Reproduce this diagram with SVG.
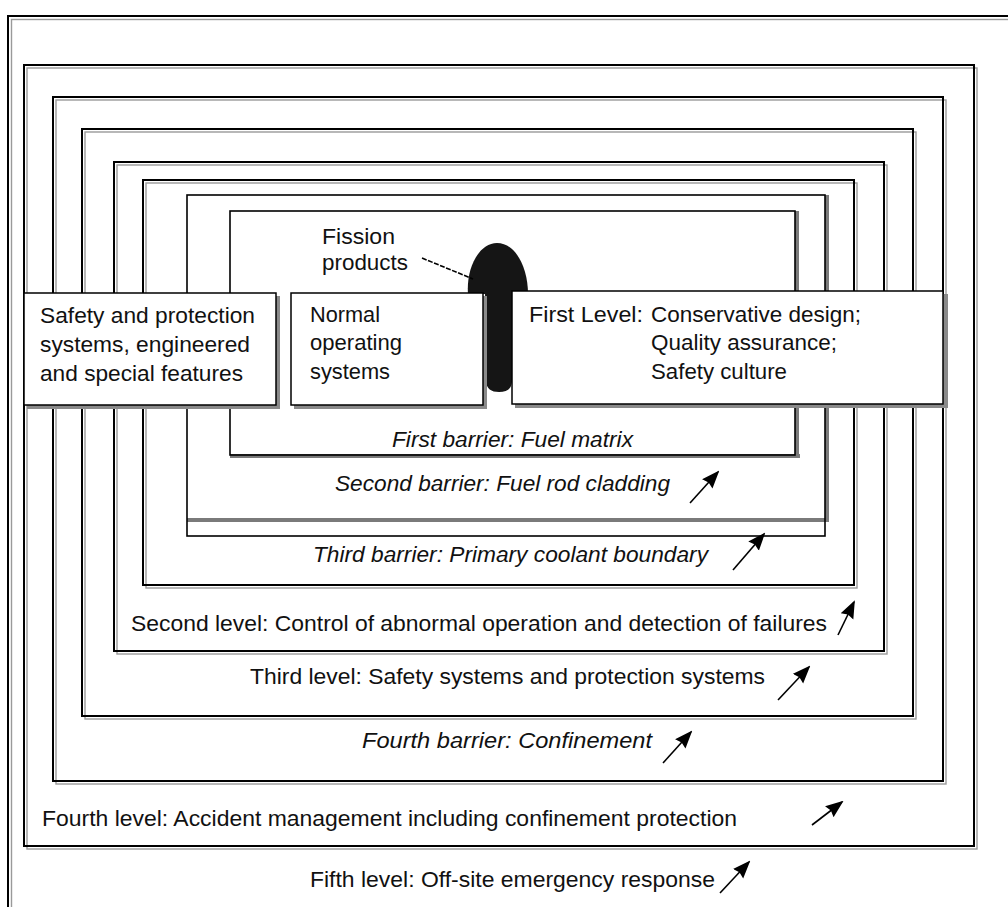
<svg xmlns="http://www.w3.org/2000/svg" width="1008" height="907" viewBox="0 0 1008 907">
<defs>
<style>
.blk{fill:none;stroke:#000;stroke-width:2}
.gry{fill:none;stroke:#9a9a9a;stroke-width:1.4}
.shd{fill:#8a8a8a}
.box{fill:#fff;stroke:#000;stroke-width:1.5}
.band{fill:none;stroke:#7a7a7a;stroke-width:4}
.t{font-family:"Liberation Sans",Arial,sans-serif;font-size:22.5px;fill:#111}
.i{font-style:italic}
.arr{fill:none;stroke:#000;stroke-width:1.6;marker-end:url(#ah)}
</style>
<marker id="ah" markerUnits="userSpaceOnUse" viewBox="0 0 18 16" markerWidth="18" markerHeight="16" refX="16" refY="8" orient="auto">
<path d="M0,1 L18,8 L0,15 L2,8 Z" fill="#000"/>
</marker>
</defs>
<rect width="1008" height="907" fill="#fff"/>

<g id="frame">
<rect class="gry" x="11.5" y="19.5" width="1010" height="900"/>
<rect class="blk" x="8" y="16" width="1010" height="900"/>
</g>

<g id="level4">
<rect class="gry" x="27" y="68" width="950" height="781"/>
<rect class="blk" x="24" y="65" width="950" height="781"/>
<text class="t" x="42" y="826" textLength="695" lengthAdjust="spacingAndGlyphs">Fourth level: Accident management including confinement protection</text>
</g>

<g id="barrier4">
<rect class="gry" x="56" y="100" width="890" height="684"/>
<rect class="blk" x="53" y="97" width="890" height="684"/>
<text class="t i" x="362" y="748" textLength="290" lengthAdjust="spacingAndGlyphs">Fourth barrier: Confinement</text>
</g>

<g id="level3">
<rect class="gry" x="85" y="132" width="831" height="587"/>
<rect class="blk" x="82" y="129" width="831" height="587"/>
<text class="t" x="250" y="684" textLength="515" lengthAdjust="spacingAndGlyphs">Third level: Safety systems and protection systems</text>
</g>

<g id="level2">
<rect class="gry" x="117" y="165" width="770" height="489"/>
<rect class="blk" x="114" y="162" width="770" height="489"/>
<text class="t" x="131" y="631" textLength="696" lengthAdjust="spacingAndGlyphs">Second level: Control of abnormal operation and detection of failures</text>
</g>

<g id="barrier3">
<rect class="gry" x="146" y="183" width="711" height="405"/>
<rect class="blk" x="143" y="180" width="711" height="405"/>
<text class="t i" x="313" y="562" textLength="395" lengthAdjust="spacingAndGlyphs">Third barrier: Primary coolant boundary</text>
</g>

<g id="barrier2">
<path class="band" d="M187,520 L829,520 M827,195 L827,520"/>
<rect class="blk" x="187" y="195" width="638" height="341" style="stroke-width:1.6"/>
<text class="t i" x="335" y="491" textLength="335" lengthAdjust="spacingAndGlyphs">Second barrier: Fuel rod cladding</text>
</g>

<g id="barrier1">
<path class="band" d="M230,456 L800,456 M797,211 L797,456"/>
<rect class="blk" x="230" y="211" width="565" height="244" style="stroke-width:1.6"/>
<text class="t i" x="392" y="447" textLength="241" lengthAdjust="spacingAndGlyphs">First barrier: Fuel matrix</text>
</g>

<g id="fission">
<path d="M468,294 C466,268 479,243 497,243 C516,243 528,268 528,294 Z" fill="#151515"/>
<path d="M485,292 L512,292 L512,382 Q511,392 499,392 Q487,392 486,382 Z" fill="#151515"/>
<text class="t" x="322" y="244" textLength="73" lengthAdjust="spacingAndGlyphs">Fission</text>
<text class="t" x="322" y="270" textLength="86" lengthAdjust="spacingAndGlyphs">products</text>
</g>

<g id="box-safety">
<rect class="shd" x="27" y="296" width="253" height="113"/>
<rect class="box" x="24" y="293" width="252" height="112"/>
<text class="t" x="40" y="323" textLength="215" lengthAdjust="spacingAndGlyphs">Safety and protection</text>
<text class="t" x="40" y="352" textLength="210" lengthAdjust="spacingAndGlyphs">systems, engineered</text>
<text class="t" x="40" y="381" textLength="203" lengthAdjust="spacingAndGlyphs">and special features</text>
</g>

<g id="box-normal">
<rect class="shd" x="294" y="296" width="193" height="113"/>
<rect class="box" x="291" y="293" width="192" height="112"/>
<text class="t" x="310" y="322" textLength="70" lengthAdjust="spacingAndGlyphs">Normal</text>
<text class="t" x="310" y="350" textLength="92" lengthAdjust="spacingAndGlyphs">operating</text>
<text class="t" x="310" y="379" textLength="80" lengthAdjust="spacingAndGlyphs">systems</text>
</g>

<g id="box-level1">
<rect class="shd" x="515" y="294" width="433" height="114"/>
<rect class="box" x="512" y="291" width="431" height="113"/>
<text class="t" x="529" y="322" textLength="114" lengthAdjust="spacingAndGlyphs">First Level:</text>
<text class="t" x="651" y="322" textLength="210" lengthAdjust="spacingAndGlyphs">Conservative design;</text>
<text class="t" x="651" y="350" textLength="186" lengthAdjust="spacingAndGlyphs">Quality assurance;</text>
<text class="t" x="651" y="379" textLength="136" lengthAdjust="spacingAndGlyphs">Safety culture</text>
</g>

<g id="level5">
<text class="t" x="310" y="887" textLength="405" lengthAdjust="spacingAndGlyphs">Fifth level: Off-site emergency response</text>
</g>

<g id="connectors">
<line x1="422" y1="258" x2="473" y2="279" stroke="#000" stroke-width="1.6" stroke-dasharray="5 1.5"/>
<line class="arr" x1="690" y1="503" x2="718" y2="472"/>
<line class="arr" x1="733" y1="570" x2="764" y2="534"/>
<line class="arr" x1="838" y1="635" x2="854" y2="602"/>
<line class="arr" x1="778" y1="700" x2="809" y2="667"/>
<line class="arr" x1="663" y1="763" x2="691" y2="732"/>
<line class="arr" x1="812" y1="825" x2="842" y2="802"/>
<line class="arr" x1="720" y1="893" x2="749" y2="862"/>
</g>
</svg>
